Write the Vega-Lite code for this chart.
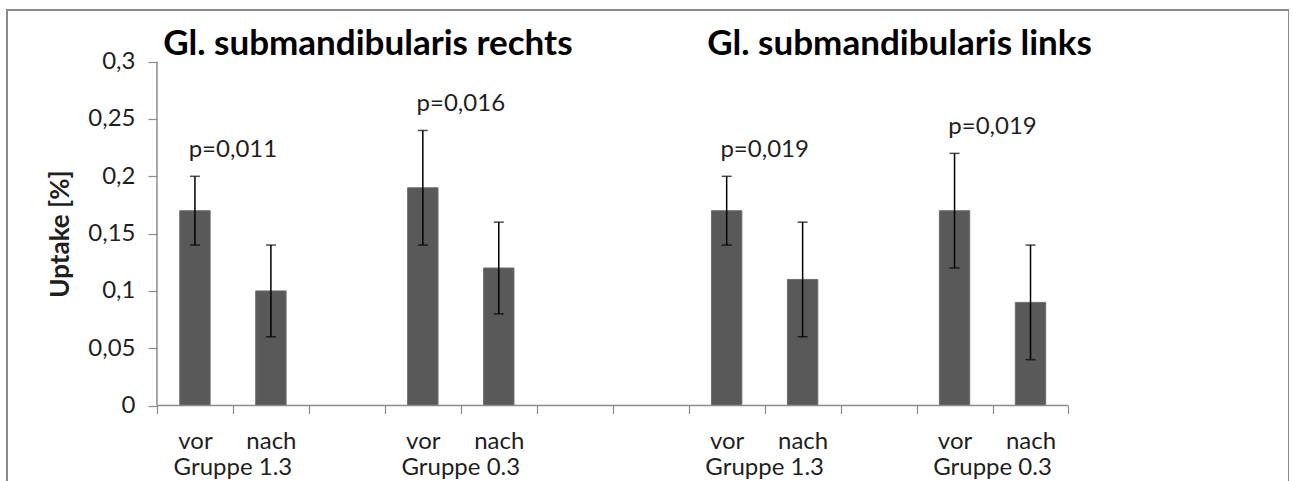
{
  "$schema": "https://vega.github.io/schema/vega-lite/v6.json",
  "width": 1282,
  "height": 480,
  "autosize": "none",
  "padding": {"left": 7, "top": 10, "right": 0, "bottom": 0},
  "background": "white",
  "config": {
    "view": {"stroke": "#8a8a8a", "strokeWidth": 2},
    "font": "Lato",
    "text": {"font": "Lato", "color": "#1f1f1f"}
  },
  "datasets": {
    "bars": [
      {"cat": "c1", "label": "vor", "gruppe": "Gruppe 1.3", "seite": "rechts", "uptake": 0.17, "lo": 0.14, "hi": 0.20, "p": "p=0,011"},
      {"cat": "c2", "label": "nach", "gruppe": "Gruppe 1.3", "seite": "rechts", "uptake": 0.10, "lo": 0.06, "hi": 0.14},
      {"cat": "c4", "label": "vor", "gruppe": "Gruppe 0.3", "seite": "rechts", "uptake": 0.19, "lo": 0.14, "hi": 0.24, "p": "p=0,016"},
      {"cat": "c5", "label": "nach", "gruppe": "Gruppe 0.3", "seite": "rechts", "uptake": 0.12, "lo": 0.08, "hi": 0.16},
      {"cat": "c8", "label": "vor", "gruppe": "Gruppe 1.3", "seite": "links", "uptake": 0.17, "lo": 0.14, "hi": 0.20, "p": "p=0,019"},
      {"cat": "c9", "label": "nach", "gruppe": "Gruppe 1.3", "seite": "links", "uptake": 0.11, "lo": 0.06, "hi": 0.16},
      {"cat": "c11", "label": "vor", "gruppe": "Gruppe 0.3", "seite": "links", "uptake": 0.17, "lo": 0.12, "hi": 0.22, "p": "p=0,019"},
      {"cat": "c12", "label": "nach", "gruppe": "Gruppe 0.3", "seite": "links", "uptake": 0.09, "lo": 0.04, "hi": 0.14}
    ],
    "titles": [
      {"cat": "c3", "t": "Gl. submandibularis rechts"},
      {"cat": "c10", "t": "Gl. submandibularis links"}
    ],
    "one": [{}]
  },
  "layer": [
    {
      "data": {"name": "bars"},
      "mark": {"type": "bar", "color": "#595959", "stroke": "#6e6e6e", "strokeWidth": 1, "width": {"band": 0.4}},
      "encoding": {
        "x": {
          "field": "cat", "type": "nominal", "title": null,
          "scale": {
            "domain": ["L1","c1","c2","c3","c4","c5","c6","c7","c8","c9","c10","c11","c12","R1","R2"],
            "paddingInner": 0, "paddingOuter": 0.9385, "align": 0.519
          },
          "axis": {
            "orient": "bottom", "offset": -84.5, "domain": false, "grid": false,
            "values": ["c1","c2","c3","c4","c5","c6","c7","c8","c9","c10","c11","c12"],
            "tickBand": "extent", "tickSize": 8, "tickColor": "#8c8c8c", "tickWidth": 1.2,
            "labelAngle": 0, "labelFontSize": 24, "labelColor": "#1f1f1f", "labelFont": "Lato",
            "labelBaseline": "alphabetic", "labelPadding": 34.5,
            "labelExpr": "indexof(['c1','c4','c8','c11'], datum.value) >= 0 ? 'vor' : (indexof(['c2','c5','c9','c12'], datum.value) >= 0 ? 'nach' : '')"
          }
        },
        "y": {
          "field": "uptake", "type": "quantitative", "title": "Uptake [%]",
          "scale": {"domain": [-0.0737, 0.3451], "nice": false, "zero": false},
          "axis": {
            "orient": "left", "offset": -150, "domain": false, "grid": false,
            "values": [0, 0.05, 0.1, 0.15, 0.2, 0.25, 0.3],
            "tickSize": 9, "tickColor": "#8c8c8c", "tickWidth": 1.2,
            "labelFontSize": 24, "labelColor": "#1f1f1f", "labelFont": "Lato", "labelPadding": 13,
            "labelExpr": "replace(toString(datum.value), '.', ',')",
            "titleFontSize": 26, "titleFont": "Lato", "titleFontWeight": "bold", "titleColor": "#1f1f1f",
            "titleX": -97, "titleY": 223.5, "titleAngle": -90, "titleAlign": "center", "titleBaseline": "middle"
          }
        },
        "y2": {"datum": 0}
      }
    },
    {
      "data": {"name": "one"},
      "mark": {"type": "rule", "color": "#8c8c8c", "strokeWidth": 1.5},
      "encoding": {
        "x": {"datum": "c1", "bandPosition": 0, "title": null},
        "x2": {"datum": "c12", "bandPosition": 1},
        "y": {"datum": 0, "title": "Uptake [%]"}
      }
    },
    {
      "data": {"name": "one"},
      "mark": {"type": "rule", "color": "#8c8c8c", "strokeWidth": 1.5},
      "encoding": {
        "x": {"datum": "c1", "bandPosition": 0, "title": null},
        "y": {"datum": 0, "title": "Uptake [%]"},
        "y2": {"datum": 0.3}
      }
    },
    {
      "data": {"name": "bars"},
      "mark": {"type": "rule", "color": "#000000", "strokeWidth": 1.5},
      "encoding": {
        "x": {"field": "cat", "type": "nominal", "title": null},
        "y": {"field": "lo", "type": "quantitative", "title": "Uptake [%]"},
        "y2": {"field": "hi"}
      }
    },
    {
      "data": {"name": "bars"},
      "mark": {"type": "tick", "color": "#000000", "size": 10, "thickness": 1.5},
      "encoding": {
        "x": {"field": "cat", "type": "nominal", "title": null},
        "y": {"field": "lo", "type": "quantitative", "title": "Uptake [%]"}
      }
    },
    {
      "data": {"name": "bars"},
      "mark": {"type": "tick", "color": "#000000", "size": 10, "thickness": 1.5},
      "encoding": {
        "x": {"field": "cat", "type": "nominal", "title": null},
        "y": {"field": "hi", "type": "quantitative", "title": "Uptake [%]"}
      }
    },
    {
      "data": {"name": "bars"},
      "transform": [{"filter": "isValid(datum.p)"}],
      "mark": {"type": "text", "fontSize": 24, "align": "center", "baseline": "alphabetic", "dy": -19},
      "encoding": {
        "x": {"field": "cat", "type": "nominal", "bandPosition": 1, "title": null},
        "y": {"field": "hi", "type": "quantitative", "title": "Uptake [%]"},
        "text": {"field": "p"}
      }
    },
    {
      "data": {"name": "bars"},
      "transform": [{"filter": "datum.label === 'nach'"}],
      "mark": {"type": "text", "fontSize": 24, "align": "center", "baseline": "alphabetic", "dy": 69.5},
      "encoding": {
        "x": {"field": "cat", "type": "nominal", "bandPosition": 0, "title": null},
        "y": {"datum": 0, "title": "Uptake [%]"},
        "text": {"field": "gruppe"}
      }
    },
    {
      "data": {"name": "titles"},
      "mark": {"type": "text", "fontSize": 35, "fontWeight": "bold", "align": "center", "baseline": "alphabetic", "dx": 21, "dy": -6.7, "color": "#000000"},
      "encoding": {
        "x": {"field": "cat", "type": "nominal", "title": null},
        "y": {"datum": 0.3, "title": "Uptake [%]"},
        "text": {"field": "t"}
      }
    }
  ]
}
